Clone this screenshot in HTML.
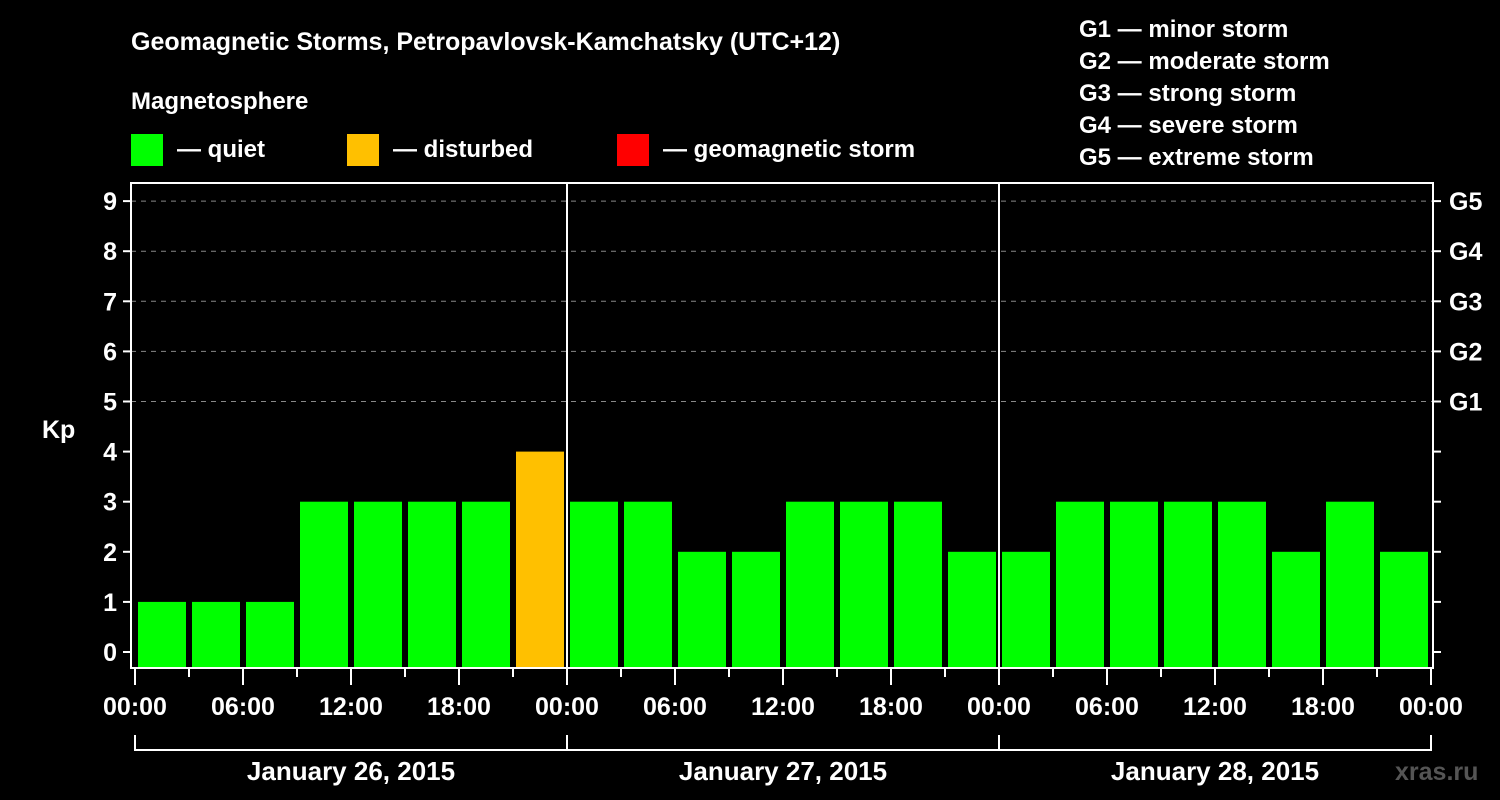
<!DOCTYPE html>
<html><head><meta charset="utf-8"><style>
body{margin:0;background:#000;width:1500px;height:800px;overflow:hidden}
svg{display:block;font-family:"Liberation Sans",Arial,sans-serif;font-weight:bold;fill:#fff}
</style></head><body>
<svg id="chart" width="1500" height="800" viewBox="0 0 1500 800">
<rect width="1500" height="800" fill="#000"/>
<text x="131" y="50" font-size="25">Geomagnetic Storms, Petropavlovsk-Kamchatsky (UTC+12)</text>
<text x="131" y="109" font-size="24">Magnetosphere</text>
<g>
<rect x="131" y="134" width="32" height="32" fill="#00ff00"/>
<text x="177" y="157" font-size="24">— quiet</text>
<rect x="347" y="134" width="32" height="32" fill="#ffc000"/>
<text x="393" y="157" font-size="24">— disturbed</text>
<rect x="617" y="134" width="32" height="32" fill="#ff0000"/>
<text x="663" y="157" font-size="24">— geomagnetic storm</text>
</g>
<g font-size="24">
<text x="1079" y="37">G1 — minor storm</text>
<text x="1079" y="69">G2 — moderate storm</text>
<text x="1079" y="101">G3 — strong storm</text>
<text x="1079" y="133">G4 — severe storm</text>
<text x="1079" y="165">G5 — extreme storm</text>
</g>
<text x="42" y="438" font-size="25">Kp</text>
<g id="plot"></g>
<text x="1395" y="780" font-size="25" fill="#555" style="fill:#555">xras.ru</text>
</svg>
<script>
const values = [1,1,1,3,3,3,3,4, 3,3,2,2,3,3,3,2, 2,3,3,3,3,2,3,2];
const yTicks = [0,1,2,3,4,5,6,7,8,9];
const gLabels = ["G1","G2","G3","G4","G5"];
const xLabels = ["00:00","06:00","12:00","18:00","00:00","06:00","12:00","18:00","00:00","06:00","12:00","18:00","00:00"];
const dayLabels = ["January 26, 2015","January 27, 2015","January 28, 2015"];

const NS="http://www.w3.org/2000/svg";
const plot=document.getElementById('plot');
const X0=135, PXH=18, Y0=652, PXU=50.1, BOTTOM=668, TOP=183, LEFT=131, RIGHT=1433;
const xs=h=>X0+h*PXH, ys=v=>Y0-v*PXU;
function mk(tag,attrs){const e=document.createElementNS(NS,tag);for(const k in attrs)e.setAttribute(k,attrs[k]);plot.appendChild(e);return e;}
function color(v){return v>=5?'#ff0000':v>=4?'#ffc000':'#00ff00';}

yTicks.forEach(v=>{
  if(v>=5){const g=mk('line',{x1:LEFT,x2:RIGHT,y1:ys(v),y2:ys(v),stroke:'#888','stroke-width':1,'stroke-dasharray':'5,5'});
  
  }
  const t=mk('line',{x1:LEFT-8,x2:LEFT,y1:ys(v),y2:ys(v),stroke:'#fff','stroke-width':2});
  
  
  const t2=mk('line',{x1:RIGHT,x2:RIGHT+8,y1:ys(v),y2:ys(v),stroke:'#fff','stroke-width':2});
  
  
  const l=mk('text',{x:LEFT-14,y:ys(v)+9,'text-anchor':'end','font-size':25});
  l.textContent=v;
  
  
});
gLabels.forEach((g,i)=>{
  const l=mk('text',{x:RIGHT+16,y:ys(5+i)+9,'font-size':25});
  l.textContent=g;
  
  
});
values.forEach((v,i)=>{
  const cx=xs(i*3+1.5);
  const r=mk('rect',{x:cx-24,y:ys(v),width:48,height:BOTTOM-ys(v),fill:color(v)});
  
  
});
const f=mk('rect',{x:LEFT,y:TOP,width:RIGHT-LEFT,height:BOTTOM-TOP,fill:'none',stroke:'#fff','stroke-width':2});


for(let d=1;d<dayLabels.length;d++){
  const l=mk('line',{x1:xs(d*24),x2:xs(d*24),y1:TOP,y2:BOTTOM,stroke:'#fff','stroke-width':2});
  
  
}
for(let h=0;h<=72;h+=3){
  const major=h%6===0;
  const t=mk('line',{x1:xs(h),x2:xs(h),y1:BOTTOM,y2:BOTTOM+(major?17:9),stroke:'#fff','stroke-width':2});
  
  
}
xLabels.forEach((s,i)=>{
  const l=mk('text',{x:xs(i*6),y:715,'text-anchor':'middle','font-size':25});
  l.textContent=s;
  
  
});
const br=mk('path',{d:`M${xs(0)} 735 V750 H${xs(72)} V735`,fill:'none',stroke:'#fff','stroke-width':2});


dayLabels.forEach((s,d)=>{
  if(d>0){const t=mk('line',{x1:xs(d*24),x2:xs(d*24),y1:735,y2:750,stroke:'#fff','stroke-width':2});
  
  }
  const l=mk('text',{x:xs(d*24+12),y:780,'text-anchor':'middle','font-size':26});
  l.textContent=s;
  
  
});
</script>
</body></html>
